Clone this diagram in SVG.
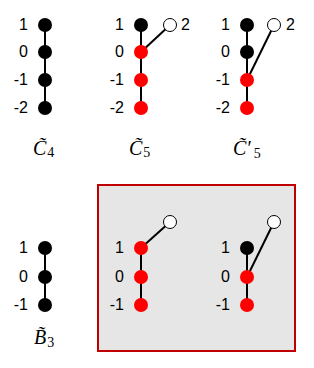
<svg xmlns="http://www.w3.org/2000/svg" width="314" height="368" viewBox="0 0 314 368">
<style>
.lbl{font-family:"Liberation Sans",Arial,sans-serif;font-size:16px;fill:#000;text-anchor:end}
.l2{font-family:"Liberation Sans",Arial,sans-serif;font-size:16px;fill:#000}
.math{font-family:"Liberation Serif","Times New Roman",serif;font-style:italic;font-size:20px;fill:#000}
.sub{font-style:normal;font-size:14px}
.e{stroke:#000;stroke-width:2;fill:none}
.b{fill:#000}
.r{fill:#ff0000}
.h{fill:#fff;stroke:#000;stroke-width:1}
</style>
<rect id="box" x="98" y="185" width="197" height="166" fill="#e6e6e6" stroke="#c00000" stroke-width="2"/>
<g id="connectors">
<line class="e" x1="45" y1="25" x2="45" y2="108"/>
<line class="e" x1="141" y1="25" x2="141" y2="108"/>
<line class="e" x1="141" y1="52" x2="170" y2="25"/>
<line class="e" x1="247" y1="25" x2="247" y2="108"/>
<line class="e" x1="247" y1="80" x2="274" y2="25"/>
<line class="e" x1="45" y1="248" x2="45" y2="305"/>
<line class="e" x1="141" y1="248" x2="141" y2="305"/>
<line class="e" x1="141" y1="248" x2="170" y2="222"/>
<line class="e" x1="247" y1="248" x2="247" y2="305"/>
<line class="e" x1="247" y1="277" x2="274" y2="222"/>
</g>
<g id="C4">
<circle class="b" cx="45" cy="25" r="7"/><circle class="b" cx="45" cy="52" r="7"/><circle class="b" cx="45" cy="80" r="7"/><circle class="b" cx="45" cy="108" r="7"/>
<text class="lbl" x="28" y="30">1</text><text class="lbl" x="28" y="57">0</text><text class="lbl" x="28" y="85">-1</text><text class="lbl" x="28" y="113">-2</text>
<text class="math" x="33" y="155">C̃<tspan class="sub" dx="1" dy="2">4</tspan></text>
</g>
<g id="C5">
<circle class="b" cx="141" cy="25" r="7"/><circle class="r" cx="141" cy="52" r="7"/><circle class="r" cx="141" cy="80" r="7"/><circle class="r" cx="141" cy="108" r="7"/>
<circle class="h" cx="170" cy="25" r="6.5"/>
<text class="lbl" x="124" y="30">1</text><text class="lbl" x="124" y="57">0</text><text class="lbl" x="124" y="85">-1</text><text class="lbl" x="124" y="113">-2</text>
<text class="l2" x="181" y="30">2</text>
<text class="math" x="129" y="155">C̃<tspan class="sub" dx="1" dy="2">5</tspan></text>
</g>
<g id="C5p">
<circle class="b" cx="247" cy="25" r="7"/><circle class="b" cx="247" cy="52" r="7"/><circle class="r" cx="247" cy="80" r="7"/><circle class="r" cx="247" cy="108" r="7"/>
<circle class="h" cx="274" cy="25" r="6.5"/>
<text class="lbl" x="230" y="30">1</text><text class="lbl" x="230" y="57">0</text><text class="lbl" x="230" y="85">-1</text><text class="lbl" x="230" y="113">-2</text>
<text class="l2" x="286" y="30">2</text>
<text class="math" x="233" y="155">C̃′<tspan class="sub" dx="3" dy="3">5</tspan></text>
</g>
<g id="B3">
<circle class="b" cx="45" cy="248" r="7"/><circle class="b" cx="45" cy="277" r="7"/><circle class="b" cx="45" cy="305" r="7"/>
<text class="lbl" x="28" y="253">1</text><text class="lbl" x="28" y="282">0</text><text class="lbl" x="28" y="310">-1</text>
<text class="math" x="34" y="344">B̃<tspan class="sub" dx="1" dy="3">3</tspan></text>
</g>
<g id="G1">
<circle class="r" cx="141" cy="248" r="7"/><circle class="r" cx="141" cy="277" r="7"/><circle class="r" cx="141" cy="305" r="7"/>
<circle class="h" cx="170" cy="222" r="6.5"/>
<text class="lbl" x="124" y="253">1</text><text class="lbl" x="124" y="282">0</text><text class="lbl" x="124" y="310">-1</text>
</g>
<g id="G2">
<circle class="b" cx="247" cy="248" r="7"/><circle class="r" cx="247" cy="277" r="7"/><circle class="r" cx="247" cy="305" r="7"/>
<circle class="h" cx="274" cy="222" r="6.5"/>
<text class="lbl" x="230" y="253">1</text><text class="lbl" x="230" y="282">0</text><text class="lbl" x="230" y="310">-1</text>
</g>
</svg>
